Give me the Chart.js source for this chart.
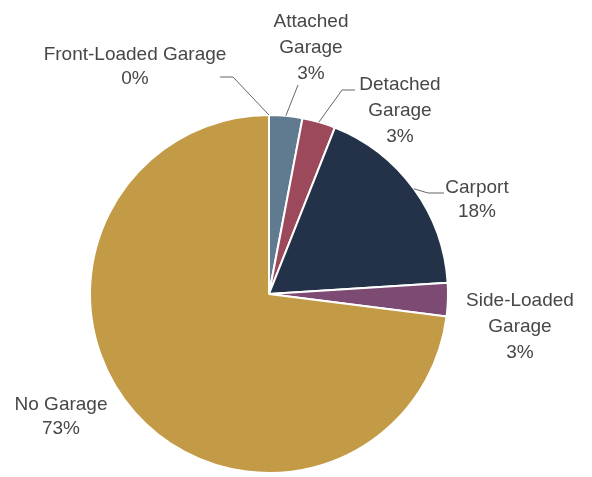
<!DOCTYPE html>
<html>
<head>
<meta charset="utf-8">
<script src="https://cdn.jsdelivr.net/npm/chart.js@4.4.1/dist/chart.umd.min.js"></script>
<style>
  html, body { margin: 0; padding: 0; background: #fff; }
  canvas { display: block; }
</style>
</head>
<body>
<canvas id="garageChart" width="592" height="477"></canvas>
<script>
// garage types, share of homes (%)
var categories = ['Front-Loaded Garage', 'Attached Garage', 'Detached Garage', 'Carport', 'Side-Loaded Garage', 'No Garage'];
var shares = [0, 3, 3, 18, 3, 73];
var sliceColors = ['#8a8a8a', '#607b90', '#9c4a5b', '#243249', '#7c4a72', '#c39a46'];

// where each callout sits: text centre, line split, leader elbow/end
var callouts = [
    { x: 135, y: 55, lines: ['Front-Loaded Garage'], elbow: [233, 77], end: [220, 77] },
    { x: 311, y: 22, lines: ['Attached', 'Garage'], elbow: [298, 85] },
    { x: 400, y: 85, lines: ['Detached', 'Garage'], elbow: [342, 90], end: [355, 90] },
    { x: 477, y: 188, lines: ['Carport'], elbow: [428, 193], end: [444, 193] },
    { x: 520, y: 301, lines: ['Side-Loaded', 'Garage'] },
    { x: 61, y: 405, lines: ['No Garage'] }
];

var calloutPlugin = {
    id: 'callouts',
    afterDatasetsDraw: function(chart) {
        var ctx = chart.ctx;
        var arcs = chart.getDatasetMeta(0).data;
        ctx.save();
        arcs.forEach(function(arc, i) {
            var c = callouts[i];
            var p = arc.getProps(['x', 'y', 'startAngle', 'endAngle', 'outerRadius'], true);
            var mid = (p.startAngle + p.endAngle) / 2;
            var ex = p.x + Math.cos(mid) * p.outerRadius;
            var ey = p.y + Math.sin(mid) * p.outerRadius;

            if (c.elbow) {
                ctx.strokeStyle = '#666';
                ctx.lineWidth = 1;
                ctx.beginPath();
                ctx.moveTo(ex, ey);
                ctx.lineTo(c.elbow[0], c.elbow[1]);
                if (c.end) ctx.lineTo(c.end[0], c.end[1]);
                ctx.stroke();
            }

            var text = c.lines.concat([shares[i] + '%']);
            ctx.font = '19px "Liberation Sans", Arial, sans-serif';
            ctx.fillStyle = '#474747';
            ctx.textAlign = 'center';
            ctx.textBaseline = 'middle';
            var lh = c.lines.length > 1 ? 26 : 24;
            text.forEach(function(t, k) {
                ctx.fillText(t, c.x, c.y + k * lh);
            });
        });
        ctx.restore();
    }
};

var ctx = document.getElementById('garageChart').getContext('2d');
var garageChart = new Chart(ctx, {
    type: 'pie',
    data: {
        labels: categories,
        datasets: [{
            data: shares,
            backgroundColor: sliceColors,
            borderColor: '#ffffff',
            borderWidth: 2
        }]
    },
    options: {
        responsive: false,
        animation: false,
        layout: { padding: { left: 89, right: 143, top: 114, bottom: 3 } },
        plugins: {
            legend: { display: false },
            tooltip: { enabled: false }
        }
    },
    plugins: [calloutPlugin]
});
</script>
</body>
</html>
